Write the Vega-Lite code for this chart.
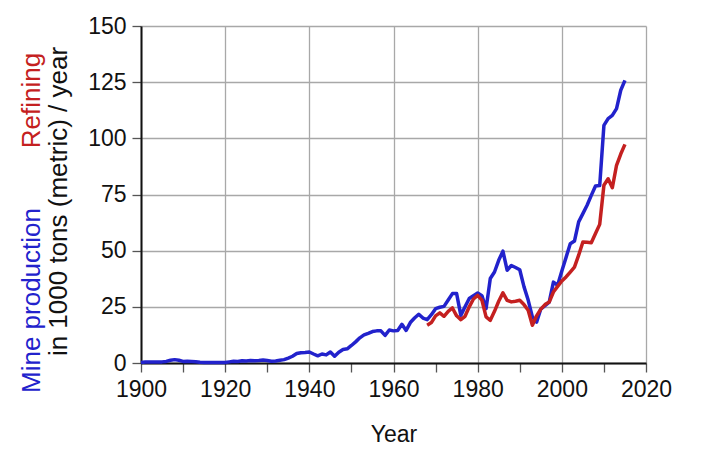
{
  "$schema": "https://vega.github.io/schema/vega-lite/v6.json",
  "width": 505,
  "height": 337,
  "autosize": {"type": "none"},
  "padding": {"left": 141, "top": 26, "right": 56, "bottom": 96},
  "background": "white",
  "config": {
    "view": {"stroke": null},
    "font": "Liberation Sans",
    "axis": {"labelFont": "Liberation Sans", "titleFont": "Liberation Sans", "titleFontWeight": "normal", "labelColor": "#111", "titleColor": "#111"}
  },
  "data": {"values": [
    {"year": 1900, "mine": 0.2}, {"year": 1901, "mine": 0.4}, {"year": 1902, "mine": 0.5}, {"year": 1903, "mine": 0.5},
    {"year": 1904, "mine": 0.5}, {"year": 1905, "mine": 0.5}, {"year": 1906, "mine": 0.7}, {"year": 1907, "mine": 1.2},
    {"year": 1908, "mine": 1.5}, {"year": 1909, "mine": 1.2}, {"year": 1910, "mine": 0.7}, {"year": 1911, "mine": 0.8},
    {"year": 1912, "mine": 0.7}, {"year": 1913, "mine": 0.6}, {"year": 1914, "mine": 0.3}, {"year": 1915, "mine": 0.2},
    {"year": 1916, "mine": 0.2}, {"year": 1917, "mine": 0.2}, {"year": 1918, "mine": 0.2}, {"year": 1919, "mine": 0.2},
    {"year": 1920, "mine": 0.2}, {"year": 1921, "mine": 0.5}, {"year": 1922, "mine": 0.8}, {"year": 1923, "mine": 0.7},
    {"year": 1924, "mine": 1.0}, {"year": 1925, "mine": 0.9}, {"year": 1926, "mine": 1.1}, {"year": 1927, "mine": 1.0},
    {"year": 1928, "mine": 1.1}, {"year": 1929, "mine": 1.3}, {"year": 1930, "mine": 1.1}, {"year": 1931, "mine": 0.8},
    {"year": 1932, "mine": 0.9}, {"year": 1933, "mine": 1.2}, {"year": 1934, "mine": 1.5}, {"year": 1935, "mine": 2.2},
    {"year": 1936, "mine": 3.0}, {"year": 1937, "mine": 4.2}, {"year": 1938, "mine": 4.6}, {"year": 1939, "mine": 4.7},
    {"year": 1940, "mine": 4.9}, {"year": 1941, "mine": 4.0}, {"year": 1942, "mine": 3.2}, {"year": 1943, "mine": 4.0},
    {"year": 1944, "mine": 3.6}, {"year": 1945, "mine": 4.9}, {"year": 1946, "mine": 3.0}, {"year": 1947, "mine": 4.8},
    {"year": 1948, "mine": 6.0}, {"year": 1949, "mine": 6.3}, {"year": 1950, "mine": 7.8}, {"year": 1951, "mine": 9.4},
    {"year": 1952, "mine": 11.2}, {"year": 1953, "mine": 12.5}, {"year": 1954, "mine": 13.2}, {"year": 1955, "mine": 14.0},
    {"year": 1956, "mine": 14.3}, {"year": 1957, "mine": 14.3}, {"year": 1958, "mine": 12.3}, {"year": 1959, "mine": 14.7},
    {"year": 1960, "mine": 14.3}, {"year": 1961, "mine": 14.5}, {"year": 1962, "mine": 17.2}, {"year": 1963, "mine": 14.5},
    {"year": 1964, "mine": 18.0}, {"year": 1965, "mine": 20.0}, {"year": 1966, "mine": 21.7}, {"year": 1967, "mine": 20.0},
    {"year": 1968, "mine": 19.3, "refining": 16.8}, {"year": 1969, "mine": 21.5, "refining": 18.0},
    {"year": 1970, "mine": 24.2, "refining": 21.0}, {"year": 1971, "mine": 24.8, "refining": 22.3},
    {"year": 1972, "mine": 25.2, "refining": 20.8}, {"year": 1973, "mine": 28.0, "refining": 23.0},
    {"year": 1974, "mine": 30.9, "refining": 24.5}, {"year": 1975, "mine": 30.9, "refining": 21.0},
    {"year": 1976, "mine": 21.2, "refining": 19.3}, {"year": 1977, "mine": 25.0, "refining": 20.8},
    {"year": 1978, "mine": 28.7, "refining": 25.0}, {"year": 1979, "mine": 30.0, "refining": 28.5},
    {"year": 1980, "mine": 31.2, "refining": 30.1}, {"year": 1981, "mine": 30.0, "refining": 28.0},
    {"year": 1982, "mine": 24.2, "refining": 20.5}, {"year": 1983, "mine": 37.6, "refining": 19.0},
    {"year": 1984, "mine": 40.5, "refining": 23.0}, {"year": 1985, "mine": 45.7, "refining": 27.5},
    {"year": 1986, "mine": 49.8, "refining": 31.2}, {"year": 1987, "mine": 41.3, "refining": 27.9},
    {"year": 1988, "mine": 43.4, "refining": 27.2}, {"year": 1989, "mine": 42.5, "refining": 27.5},
    {"year": 1990, "mine": 41.5, "refining": 27.9}, {"year": 1991, "mine": 34.0, "refining": 26.0},
    {"year": 1992, "mine": 28.0, "refining": 23.5}, {"year": 1993, "mine": 20.5, "refining": 16.8},
    {"year": 1994, "mine": 18.2, "refining": 21.0}, {"year": 1995, "mine": 24.0, "refining": 24.0},
    {"year": 1996, "mine": 25.5, "refining": 26.0}, {"year": 1997, "mine": 27.1, "refining": 27.1},
    {"year": 1998, "mine": 36.0, "refining": 31.6}, {"year": 1999, "mine": 34.6, "refining": 34.1},
    {"year": 2000, "mine": 41.0, "refining": 36.5}, {"year": 2001, "mine": 47.0, "refining": 38.3},
    {"year": 2002, "mine": 53.1, "refining": 40.5}, {"year": 2003, "mine": 54.3, "refining": 42.7},
    {"year": 2004, "mine": 62.8, "refining": 48.0}, {"year": 2005, "mine": 66.5, "refining": 53.9},
    {"year": 2006, "mine": 70.2, "refining": 53.7}, {"year": 2007, "mine": 74.6, "refining": 53.5},
    {"year": 2008, "mine": 78.8, "refining": 57.6}, {"year": 2009, "mine": 79.0, "refining": 61.7},
    {"year": 2010, "mine": 105.8, "refining": 79.1}, {"year": 2011, "mine": 108.8, "refining": 82.0},
    {"year": 2012, "mine": 110.2, "refining": 78.0}, {"year": 2013, "mine": 113.2, "refining": 88.0},
    {"year": 2014, "mine": 121.4, "refining": 93.0}, {"year": 2015, "mine": 125.8, "refining": 97.3}
  ]},
  "encoding": {
    "x": {
      "field": "year", "type": "quantitative",
      "scale": {"domain": [1900, 2020], "nice": false, "zero": false},
      "axis": {
        "values": [1900, 1910, 1920, 1930, 1940, 1950, 1960, 1970, 1980, 1990, 2000, 2010, 2020],
        "format": "d",
        "labelExpr": "datum.value % 20 === 0 ? datum.label : ''",
        "labelFlush": false, "labelOverlap": false,
        "grid": true, "gridColor": "#a8a8a8", "gridWidth": 1.3,
        "gridOpacity": {"condition": {"test": "datum.value % 20 === 0", "value": 1}, "value": 0},
        "domainColor": "#111", "domainWidth": 2,
        "tickColor": "#555", "tickSize": 9, "tickWidth": 1.3,
        "labelFontSize": 23, "labelPadding": 6,
        "title": "Year", "titleFontSize": 23, "titlePadding": 22
      }
    }
  },
  "layer": [
    {
      "mark": {"type": "line", "color": "#2222cc", "strokeWidth": 3.5, "strokeJoin": "round"},
      "encoding": {
        "y": {
          "field": "mine", "type": "quantitative",
          "scale": {"domain": [0, 150], "nice": false},
          "axis": {
            "orient": "left",
            "values": [0, 25, 50, 75, 100, 125, 150],
            "grid": true, "gridColor": "#a8a8a8", "gridWidth": 1.3,
            "domainColor": "#111", "domainWidth": 2,
            "tickColor": "#555", "tickSize": 9, "tickWidth": 1.3,
            "labelFontSize": 23, "labelPadding": 6, "labelFlush": false, "labelOverlap": false,
            "title": "in 1000 tons (metric) / year", "titleFontSize": 26,
            "titleY": 175, "titleAlign": "center",
            "minExtent": 53, "maxExtent": 53, "titlePadding": 17
          }
        }
      }
    },
    {
      "mark": {"type": "line", "color": "#c42020", "strokeWidth": 3.5, "strokeJoin": "round"},
      "encoding": {
        "y": {
          "field": "refining", "type": "quantitative",
          "scale": {"domain": [0, 150], "nice": false},
          "axis": {
            "orient": "left", "domain": false, "ticks": false, "labels": false, "grid": false,
            "title": "Refining", "titleColor": "#c42020", "titleFontSize": 26,
            "titleY": 74, "titleAlign": "center",
            "minExtent": 0, "maxExtent": 0, "titlePadding": 97
          }
        }
      }
    },
    {
      "mark": {"type": "line", "color": "#2222cc", "strokeWidth": 3.5, "opacity": 0},
      "encoding": {
        "y": {
          "field": "mine", "type": "quantitative",
          "scale": {"domain": [0, 150], "nice": false},
          "axis": {
            "orient": "left", "domain": false, "ticks": false, "labels": false, "grid": false,
            "title": "Mine production", "titleColor": "#2222cc", "titleFontSize": 26,
            "titleY": 274, "titleAlign": "center",
            "minExtent": 0, "maxExtent": 0, "titlePadding": 97
          }
        }
      }
    }
  ],
  "resolve": {"scale": {"y": "independent"}, "axis": {"y": "independent"}}
}
